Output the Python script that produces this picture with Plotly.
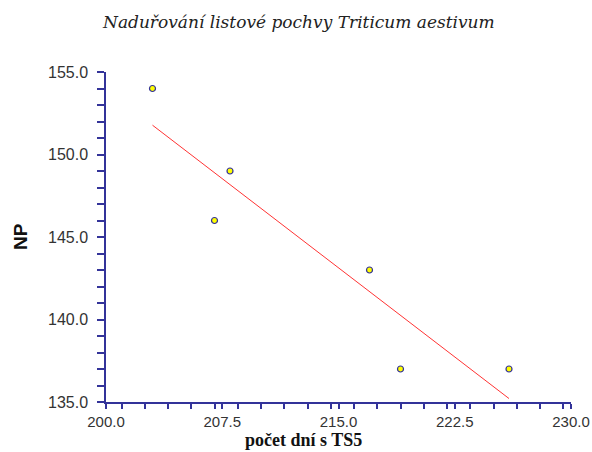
import numpy as np
import plotly.graph_objects as go

days = [203, 207, 208, 217, 219, 226]
np_vals = [154, 146, 149, 143, 137, 137]
title_text = "Nadu\u0159ov\u00e1n\u00ed listov\u00e9 pochvy Triticum aestivum"
x_label = "po\u010det dn\u00ed s TS5"
y_label = "NP"

slope, intercept = np.polyfit(days, np_vals, 1)
fit_x = [min(days), max(days)]
fit_y = [slope * v + intercept for v in fit_x]

axis_col = "#333399"

fig = go.Figure()
fig.add_trace(go.Scatter(x=fit_x, y=fit_y, mode="lines",
                         line=dict(color="#ff3333", width=1), hoverinfo="skip"))
fig.add_trace(go.Scatter(x=days, y=np_vals, mode="markers",
                         marker=dict(symbol="circle", size=6, color="#ffff00",
                                     line=dict(color="#333399", width=1.2))))

fig.update_layout(
    width=592, height=452,
    margin=dict(l=106, r=21, t=72, b=50, autoexpand=False),
    paper_bgcolor="white", plot_bgcolor="white",
    showlegend=False,
)
fig.add_annotation(text="<i>" + title_text + "</i>", xref="paper", yref="paper",
                   x=(298 - 106) / 465, y=1 + (72 - 22) / 330, xanchor="center", yanchor="middle",
                   showarrow=False, borderpad=0,
                   font=dict(family="DejaVu Serif", size=17, color="#222"))
fig.add_annotation(text="<b>" + x_label + "</b>", xref="paper", yref="paper",
                   x=(303 - 106) / 465, y=-(451 - 402) / 330, xanchor="center", yanchor="bottom",
                   showarrow=False, borderpad=0,
                   font=dict(family="Liberation Serif, Times New Roman, serif", size=18, color="#111"))
fig.add_annotation(text="<b>" + y_label + "</b>", xref="paper", yref="paper",
                   x=-(106 - 20) / 465, y=0.5, xanchor="center", yanchor="middle",
                   textangle=-90, showarrow=False, borderpad=0,
                   font=dict(family="Liberation Sans", size=19, color="#111"))
fig.update_xaxes(
    range=[200, 230], dtick=7.5, tick0=200, tickformat=".1f", automargin=False,
    showgrid=False, zeroline=False, showline=True, linecolor=axis_col, linewidth=1.5,
    ticks="outside", ticklen=5, tickcolor=axis_col, tickwidth=1.5,
    minor=dict(dtick=1.5, ticks="outside", ticklen=5, tickcolor=axis_col, tickwidth=1.5),
    ticklabelstandoff=0,
    tickfont=dict(family="Liberation Sans", size=15, color="#333"),
)
fig.update_yaxes(
    range=[135, 155], dtick=5, tick0=135, tickformat=".1f", automargin=False,
    showgrid=False, zeroline=False, showline=True, linecolor=axis_col, linewidth=1.5,
    ticks="outside", ticklen=7, tickcolor=axis_col, tickwidth=1.5,
    minor=dict(dtick=1, ticks="outside", ticklen=7, tickcolor=axis_col, tickwidth=1.5),
    ticklabelstandoff=6,
    tickfont=dict(family="Liberation Sans", size=16, color="#333"),
)

fig.write_html("out.html")
